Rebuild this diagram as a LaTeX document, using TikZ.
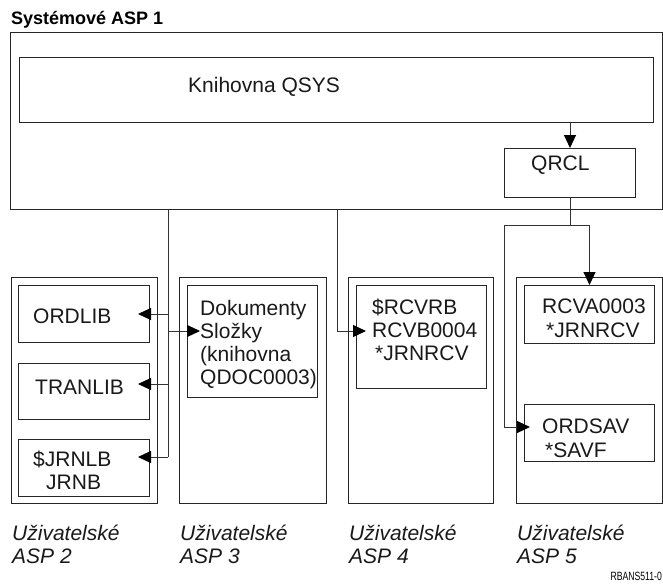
\documentclass[tikz,border=0pt]{standalone}
\usepackage{fontspec}
\setmainfont{Liberation Sans}
\usetikzlibrary{arrows.meta}

\tikzset{
  box/.style={draw=black!85, line width=1pt, inner sep=0pt, anchor=north west},
  lbl/.style={anchor=base west, inner sep=0pt, text=black!90,
              font=\fontsize{21}{23}\selectfont},
  asplbl/.style={lbl, font=\fontsize{21}{23}\selectfont\itshape},
  conn/.style={draw=black!80, line width=1pt},
  arr/.style={conn, -{Triangle[length=13pt,width=12pt,color=black]}},
}

\begin{document}
\begin{tikzpicture}[x=1pt, y=-1pt]
\useasboundingbox (0,0) rectangle (663,587);

% system ASP
\node[anchor=base west, inner sep=0pt, font=\fontsize{18}{20}\selectfont\bfseries] (title) at (11,24) {Systémové ASP 1};
\node[box, minimum width=652pt, minimum height=177pt] (asp1) at (10,32) {};
\node[box, minimum width=634pt, minimum height=65pt] (qsys) at (19,57) {};
\node[lbl] (tqsys) at (188,92) {Knihovna QSYS};
\node[box, minimum width=131pt, minimum height=49pt] (qrcl) at (504,148) {};
\node[lbl] (tqrcl) at (531,170) {QRCL};

% user ASP 2
\node[box, minimum width=146pt, minimum height=226pt] (asp2) at (11,277) {};
\node[box, minimum width=131pt, minimum height=57pt] (ordlib) at (18,285) {};
\node[lbl] (tordlib) at (33,323) {ORDLIB};
\node[box, minimum width=131pt, minimum height=56pt] (tranlib) at (18,363) {};
\node[lbl] (ttranlib) at (35,394) {TRANLIB};
\node[box, minimum width=131pt, minimum height=57pt] (jrnlb) at (18,439) {};
\node[lbl] (tjrnlb) at (33,466) {\$JRNLB};
\node[lbl] (tjrnb) at (46,489) {JRNB};

% user ASP 3
\node[box, minimum width=147pt, minimum height=226pt] (asp3) at (179,277) {};
\node[box, minimum width=130pt, minimum height=112pt] (dok) at (187,285) {};
\node[lbl] (tdok1) at (200,315) {Dokumenty};
\node[lbl] (tdok2) at (200,338) {Složky};
\node[lbl] (tdok3) at (200,361) {(knihovna};
\node[lbl] (tdok4) at (200,384) {QDOC0003)};

% user ASP 4
\node[box, minimum width=145pt, minimum height=226pt] (asp4) at (348,277) {};
\node[box, minimum width=130pt, minimum height=103pt] (rcvrb) at (356,285) {};
\node[lbl] (trcvrb1) at (372,314) {\$RCVRB};
\node[lbl] (trcvrb2) at (372,337) {RCVB0004};
\node[lbl] (trcvrb3) at (375,360) {*JRNRCV};

% user ASP 5
\node[box, minimum width=146pt, minimum height=226pt] (asp5) at (516,277) {};
\node[box, minimum width=130pt, minimum height=58pt] (rcva) at (524,285) {};
\node[lbl] (trcva1) at (542,313) {RCVA0003};
\node[lbl] (trcva2) at (546,337) {*JRNRCV};
\node[box, minimum width=130pt, minimum height=57pt] (ordsav) at (524,404) {};
\node[lbl] (tordsav1) at (542,433) {ORDSAV};
\node[lbl] (tordsav2) at (545,457) {*SAVF};

% captions
\node[asplbl] (c2a) at (12,540) {Uživatelské};
\node[asplbl] (c2b) at (12,563) {ASP 2};
\node[asplbl] (c3a) at (180,540) {Uživatelské};
\node[asplbl] (c3b) at (180,563) {ASP 3};
\node[asplbl] (c4a) at (349,540) {Uživatelské};
\node[asplbl] (c4b) at (349,563) {ASP 4};
\node[asplbl] (c5a) at (517,540) {Uživatelské};
\node[asplbl] (c5b) at (517,563) {ASP 5};
\node[anchor=base east, inner sep=0pt, font=\fontsize{12}{13}\selectfont] (fig) at (662,580) {\scalebox{0.72}[1]{RBANS511-0}};

% junctions and arrow ends
\coordinate (bus2) at (168,457);
\coordinate (bus4) at (337,331);
\coordinate (split) at (qrcl.south |- 0,225);
\coordinate (bus5) at (504,225);
\coordinate (ordlib-in) at (138,314);
\coordinate (tranlib-in) at (138,384);
\coordinate (jrnlb-in) at (138,457);
\coordinate (dok-in) at (200,331);
\coordinate (rcvrb-in) at (366,331);
\coordinate (ordsav-in) at (530,427);

% connectors
\draw[arr] (qsys.south -| qrcl.north) -- (qrcl.north);
\draw[conn] (asp1.south -| bus2) -- (bus2);
\draw[arr] (bus2 |- ordlib-in) -- (ordlib-in);
\draw[arr] (bus2 |- tranlib-in) -- (tranlib-in);
\draw[arr] (bus2) -- (jrnlb-in);
\draw[arr] (bus2 |- dok-in) -- (dok-in);
\draw[arr] (asp1.south -| bus4) -- (bus4) -- (rcvrb-in);
\draw[conn] (qrcl.south) -- (split);
\draw[arr] (split) -| (rcva.north);
\draw[arr] (split) -- (bus5) |- (ordsav-in);
\end{tikzpicture}
\end{document}
